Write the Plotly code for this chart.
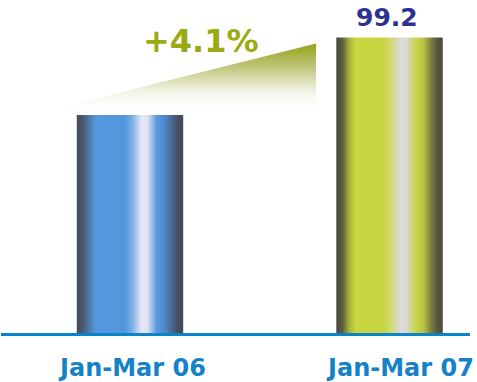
import plotly.graph_objects as go

CATEGORIES = ["Jan-Mar 06", "Jan-Mar 07"]
VALUES = [95.3, 99.2]
VALUE_LABELS = ["", "99.2"]

Y_MIN, Y_MAX = 84.33, 101.09
X_MIN, X_MAX = -0.497, 1.310
HALF_W = 0.205

BLUE_SCALE = [
    [0.00, "#434c5a"], [0.06, "#4a5a70"], [0.13, "#4f7fb8"], [0.18, "#5598e0"],
    [0.45, "#5396dc"], [0.52, "#7aaee4"], [0.57, "#b8cfec"], [0.61, "#e6e6f6"],
    [0.66, "#e2e4f4"], [0.70, "#a8c4e8"], [0.75, "#5a9ae0"], [0.82, "#4d8ad0"],
    [0.89, "#4a6890"], [0.95, "#45505e"], [1.00, "#424a56"],
]
YELLOW_SCALE = [
    [0.00, "#48483c"], [0.06, "#5f6140"], [0.12, "#a8b03e"], [0.18, "#cad640"],
    [0.45, "#c9d444"], [0.52, "#d4da78"], [0.57, "#d6d8b4"], [0.61, "#dcdcdc"],
    [0.66, "#d8d8d0"], [0.70, "#d0d688"], [0.75, "#cad64a"], [0.82, "#b8c240"],
    [0.89, "#7c803e"], [0.95, "#55553e"], [1.00, "#4a4a3a"],
]
SCALES = [BLUE_SCALE, YELLOW_SCALE]

fig = go.Figure()

# wedge between the bars
v1, v2 = VALUES
fig.add_trace(go.Scatter(
    x=[-0.385, 0.717, 0.717, -0.385],
    y=[v1, v2 - 0.3, v1, v1],
    mode="lines", line=dict(width=0), fill="toself",
    fillgradient=dict(type="vertical",
                      colorscale=[[0, "rgba(255,255,255,0)"], [0.35, "rgba(240,242,225,1)"],
                                  [0.7, "#bcc272"], [1, "#94a316"]]),
    hoverinfo="skip", showlegend=False,
))

for i, (v, sc) in enumerate(zip(VALUES, SCALES)):
    fig.add_trace(go.Scatter(
        x=[i - HALF_W, i + HALF_W, i + HALF_W, i - HALF_W, i - HALF_W],
        y=[Y_MIN, Y_MIN, v, v, Y_MIN],
        mode="lines", line=dict(width=0), fill="toself",
        fillgradient=dict(type="horizontal", colorscale=sc),
        hoverinfo="skip", showlegend=False, name=CATEGORIES[i],
    ))

# value label
fig.add_annotation(x=1, y=v2, text=VALUE_LABELS[1], showarrow=False, borderpad=0,
                   xshift=-2.5, yshift=5, yanchor="bottom",
                   font=dict(family="DejaVu Sans", size=25, color="#2d3190", weight="bold"))
# change label
fig.add_annotation(x=0.272, y=v2, text=f"+{(v2 / v1 - 1) * 100:.1f}%", showarrow=False,
                   borderpad=0, yshift=-3, yanchor="middle",
                   font=dict(family="DejaVu Sans", size=32, color="#9aaa12", weight="bold"))

# category labels
shifts = [2, 10]
for i, c in enumerate(CATEGORIES):
    fig.add_annotation(x=i, y=0, yref="paper", text=c, showarrow=False, borderpad=0,
                       xshift=shifts[i], yshift=-35, yanchor="middle",
                       font=dict(family="DejaVu Sans", size=24, color="#1482c8", weight="bold"))

fig.update_layout(
    width=477, height=382,
    margin=dict(l=1, r=7, t=0, b=49),
    paper_bgcolor="white", plot_bgcolor="white",
    xaxis=dict(range=[X_MIN, X_MAX], showgrid=False, zeroline=False, showticklabels=False,
               showline=True, linecolor="#0a84c8", linewidth=3, fixedrange=True),
    yaxis=dict(range=[Y_MIN, Y_MAX], showgrid=False, zeroline=False, showticklabels=False,
               showline=False, fixedrange=True),
    showlegend=False,
)

fig.write_html("out.html")
